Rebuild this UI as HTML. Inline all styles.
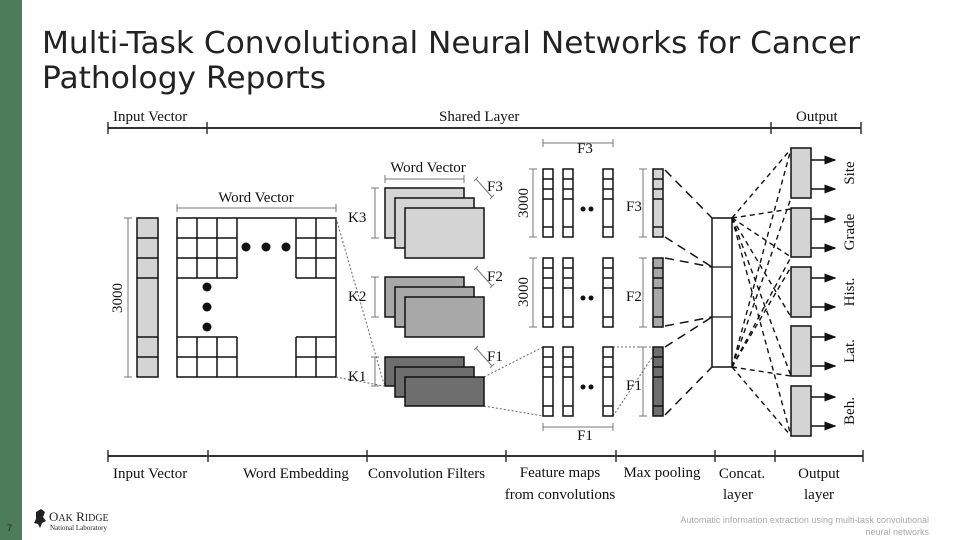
<!DOCTYPE html>
<html><head><meta charset="utf-8"><style>
html,body{margin:0;padding:0;background:#fff;}
svg{display:block;}
</style></head><body>
<svg width="960" height="540" viewBox="0 0 960 540" xmlns="http://www.w3.org/2000/svg">
<defs>
<marker id="ar" markerWidth="8" markerHeight="6" refX="7" refY="3" orient="auto"><path d="M0,0 L8,3 L0,6 z" fill="#111"/></marker>
</defs>
<rect x="0" y="0" width="22" height="540" fill="#4d7c5a"/>
<text x="7" y="531" font-family="Liberation Sans, sans-serif" font-size="9" fill="#222">7</text>
<g font-family="DejaVu Sans, Liberation Sans, sans-serif" font-size="30" fill="#222">
<text x="42" y="53" textLength="818" lengthAdjust="spacingAndGlyphs">Multi-Task Convolutional Neural Networks for Cancer</text>
<text x="42" y="88" textLength="284" lengthAdjust="spacingAndGlyphs">Pathology Reports</text>
</g>

<g font-family="Liberation Serif, serif" font-size="15" fill="#111">
<!-- top axis -->
<line x1="108" y1="128" x2="861" y2="128" stroke="#333" stroke-width="2"/>
<line x1="108" y1="122" x2="108" y2="134" stroke="#333" stroke-width="1.5"/>
<line x1="207" y1="122" x2="207" y2="134" stroke="#333" stroke-width="1.5"/>
<line x1="771" y1="122" x2="771" y2="134" stroke="#333" stroke-width="1.5"/>
<line x1="861" y1="122" x2="861" y2="134" stroke="#333" stroke-width="1.5"/>
<text x="113" y="121">Input  Vector</text>
<text x="439" y="121">Shared  Layer</text>
<text x="796" y="121">Output</text>

<!-- input vector -->
<line x1="128" y1="218" x2="128" y2="377" stroke="#777"/>
<line x1="124" y1="218" x2="132" y2="218" stroke="#777"/>
<line x1="124" y1="377" x2="132" y2="377" stroke="#777"/>
<text transform="translate(122,298) rotate(-90)" text-anchor="middle">3000</text>
<rect x="137" y="218" width="21" height="159" fill="#d4d4d4" stroke="#111" stroke-width="1.5"/>
<g stroke="#111" stroke-width="1.5">
<line x1="137" y1="238" x2="158" y2="238"/><line x1="137" y1="258" x2="158" y2="258"/><line x1="137" y1="278" x2="158" y2="278"/>
<line x1="137" y1="337" x2="158" y2="337"/><line x1="137" y1="357" x2="158" y2="357"/>
</g>

<!-- word matrix -->
<line x1="177" y1="208" x2="336" y2="208" stroke="#777"/>
<line x1="177" y1="204" x2="177" y2="212" stroke="#777"/><line x1="336" y1="204" x2="336" y2="212" stroke="#777"/>
<text x="256" y="202" text-anchor="middle">Word  Vector</text>
<rect x="177" y="218" width="159" height="159" fill="#fff" stroke="#111" stroke-width="1.5"/>
<g stroke="#111" stroke-width="1.5" fill="none">
<path d="M177 238H237M177 258H237M177 278H237M197 218V278M217 218V278M237 218V278"/>
<path d="M296 238H336M296 258H336M296 278H336M296 218V278M316 218V278"/>
<path d="M177 337H237M177 357H237M197 337V377M217 337V377M237 337V377"/>
<path d="M296 337H336M296 357H336M296 337V377M316 337V377"/>
</g>
<g fill="#111">
<circle cx="246" cy="247" r="4.5"/><circle cx="266" cy="247" r="4.5"/><circle cx="286" cy="247" r="4.5"/>
<circle cx="207" cy="287" r="4.5"/><circle cx="207" cy="307" r="4.5"/><circle cx="207" cy="327" r="4.5"/>
</g>
<g stroke="#666" stroke-dasharray="2,2" stroke-width="1">
<line x1="336" y1="218" x2="384" y2="384"/>
<line x1="336" y1="377" x2="384" y2="386"/>
<line x1="484" y1="377" x2="543" y2="347"/>
<line x1="484" y1="406" x2="543" y2="416"/>
<line x1="613" y1="347" x2="653" y2="347"/>
<line x1="613" y1="416" x2="653" y2="356"/>
</g>

<!-- filters -->
<line x1="385" y1="179" x2="464" y2="179" stroke="#777"/>
<line x1="385" y1="175" x2="385" y2="183" stroke="#777"/><line x1="464" y1="175" x2="464" y2="183" stroke="#777"/>
<text x="428" y="172" text-anchor="middle">Word  Vector</text>
<g stroke="#777">
<line x1="375" y1="188" x2="375" y2="238"/><line x1="371" y1="188" x2="379" y2="188"/><line x1="371" y1="238" x2="379" y2="238"/>
<line x1="375" y1="277" x2="375" y2="317"/><line x1="371" y1="277" x2="379" y2="277"/><line x1="371" y1="317" x2="379" y2="317"/>
<line x1="375" y1="357" x2="375" y2="386"/><line x1="371" y1="357" x2="379" y2="357"/><line x1="371" y1="386" x2="379" y2="386"/>
<line x1="476" y1="179" x2="492" y2="197"/><line x1="474" y1="181" x2="478" y2="177"/><line x1="490" y1="199" x2="494" y2="195"/>
<line x1="476" y1="268" x2="492" y2="286"/><line x1="474" y1="270" x2="478" y2="266"/><line x1="490" y1="288" x2="494" y2="284"/>
<line x1="476" y1="348" x2="492" y2="366"/><line x1="474" y1="350" x2="478" y2="346"/><line x1="490" y1="368" x2="494" y2="364"/>
</g>
<text x="348" y="222">K3</text><text x="348" y="301">K2</text><text x="348" y="381">K1</text>
<text x="487" y="191">F3</text><text x="487" y="281">F2</text><text x="487" y="361">F1</text>
<g stroke="#111" stroke-width="1.5">
<rect x="385" y="188" width="79" height="50" fill="#d4d4d4"/><rect x="395" y="198" width="79" height="50" fill="#d4d4d4"/><rect x="405" y="208" width="79" height="50" fill="#d4d4d4"/>
<rect x="385" y="277" width="79" height="40" fill="#a8a8a8"/><rect x="395" y="287" width="79" height="40" fill="#a8a8a8"/><rect x="405" y="297" width="79" height="40" fill="#a8a8a8"/>
<rect x="385" y="357" width="79" height="29" fill="#6e6e6e"/><rect x="395" y="367" width="79" height="30" fill="#6e6e6e"/><rect x="405" y="377" width="79" height="29" fill="#6e6e6e"/>
</g>

<!-- feature maps -->
<line x1="543" y1="143" x2="613" y2="143" stroke="#777"/>
<line x1="543" y1="139" x2="543" y2="147" stroke="#777"/><line x1="613" y1="139" x2="613" y2="147" stroke="#777"/>
<text x="585" y="153" text-anchor="middle">F3</text>
<line x1="543" y1="427" x2="613" y2="427" stroke="#777"/>
<line x1="543" y1="423" x2="543" y2="431" stroke="#777"/><line x1="613" y1="423" x2="613" y2="431" stroke="#777"/>
<text x="585" y="440" text-anchor="middle">F1</text>
<g stroke="#777">
<line x1="533" y1="169" x2="533" y2="237"/><line x1="529" y1="169" x2="537" y2="169"/><line x1="529" y1="237" x2="537" y2="237"/>
<line x1="533" y1="258" x2="533" y2="327"/><line x1="529" y1="258" x2="537" y2="258"/><line x1="529" y1="327" x2="537" y2="327"/>
<line x1="643" y1="169" x2="643" y2="237"/><line x1="639" y1="169" x2="647" y2="169"/><line x1="639" y1="237" x2="647" y2="237"/>
<line x1="643" y1="258" x2="643" y2="327"/><line x1="639" y1="258" x2="647" y2="258"/><line x1="639" y1="327" x2="647" y2="327"/>
<line x1="643" y1="347" x2="643" y2="416"/><line x1="639" y1="347" x2="647" y2="347"/><line x1="639" y1="416" x2="647" y2="416"/>
</g>
<text transform="translate(528,203) rotate(-90)" text-anchor="middle">3000</text>
<text transform="translate(528,292) rotate(-90)" text-anchor="middle">3000</text>
<text x="626" y="211">F3</text><text x="626" y="301">F2</text><text x="626" y="390">F1</text>
<g stroke="#111" stroke-width="1.5" fill="#fff">
<path d="M543 169h10v68h-10zM543 179h10M543 189h10M543 199h10M543 227h10"/>
<path d="M563 169h10v68h-10zM563 179h10M563 189h10M563 199h10M563 227h10"/>
<path d="M603 169h10v68h-10zM603 179h10M603 189h10M603 199h10M603 227h10"/>
<path d="M543 258h10v69h-10zM543 268h10M543 278h10M543 288h10M543 317h10"/>
<path d="M563 258h10v69h-10zM563 268h10M563 278h10M563 288h10M563 317h10"/>
<path d="M603 258h10v69h-10zM603 268h10M603 278h10M603 288h10M603 317h10"/>
<path d="M543 347h10v69h-10zM543 357h10M543 367h10M543 377h10M543 406h10"/>
<path d="M563 347h10v69h-10zM563 357h10M563 367h10M563 377h10M563 406h10"/>
<path d="M603 347h10v69h-10zM603 357h10M603 367h10M603 377h10M603 406h10"/>
</g>
<g stroke="#111" stroke-width="1.5">
<path fill="#d4d4d4" d="M653 169h10v68h-10zM653 179h10M653 189h10M653 199h10M653 227h10"/>
<path fill="#a8a8a8" d="M653 258h10v69h-10zM653 268h10M653 278h10M653 288h10M653 317h10"/>
<path fill="#6e6e6e" d="M653 347h10v69h-10zM653 357h10M653 367h10M653 377h10M653 406h10"/>
</g>
<g fill="#111">
<circle cx="583" cy="209" r="2.5"/><circle cx="591" cy="209" r="2.5"/>
<circle cx="583" cy="298" r="2.5"/><circle cx="591" cy="298" r="2.5"/>
<circle cx="583" cy="387" r="2.5"/><circle cx="591" cy="387" r="2.5"/>
</g>

<!-- pooling to concat -->
<g stroke="#111" stroke-width="1.5" stroke-dasharray="9,6">
<line x1="665" y1="170" x2="712" y2="218"/>
<line x1="665" y1="237" x2="712" y2="267"/>
<line x1="665" y1="258" x2="712" y2="267"/>
<line x1="665" y1="326" x2="712" y2="317"/>
<line x1="665" y1="347" x2="712" y2="317"/>
<line x1="665" y1="415" x2="712" y2="367"/>
</g>
<rect x="712" y="218" width="20" height="149" fill="#fff" stroke="#111" stroke-width="1.5"/>
<line x1="712" y1="267" x2="732" y2="267" stroke="#111" stroke-width="1.2"/>
<line x1="712" y1="317" x2="732" y2="317" stroke="#111" stroke-width="1.2"/>

<!-- concat to outputs -->
<g stroke="#111" stroke-width="1.4" stroke-dasharray="5,4">
<line x1="732" y1="218" x2="791" y2="149"/><line x1="732" y1="218" x2="791" y2="209"/><line x1="732" y1="218" x2="791" y2="257"/><line x1="732" y1="218" x2="791" y2="317"/><line x1="732" y1="218" x2="791" y2="376"/>
<line x1="732" y1="367" x2="791" y2="198"/><line x1="732" y1="367" x2="791" y2="257"/><line x1="732" y1="367" x2="791" y2="267"/><line x1="732" y1="367" x2="791" y2="376"/><line x1="732" y1="367" x2="791" y2="436"/>
<line x1="732" y1="218" x2="791" y2="436"/><line x1="732" y1="367" x2="791" y2="149"/>
</g>
<g stroke="#111" stroke-width="1.5" fill="#d4d4d4">
<rect x="791" y="148" width="20" height="50"/>
<rect x="791" y="208" width="20" height="49"/>
<rect x="791" y="267" width="20" height="50"/>
<rect x="791" y="326" width="20" height="50"/>
<rect x="791" y="386" width="20" height="50"/>
</g>
<g stroke="#111" stroke-width="1.5" marker-end="url(#ar)">
<line x1="811" y1="160" x2="835" y2="160"/><line x1="811" y1="189" x2="835" y2="189"/>
<line x1="811" y1="219" x2="835" y2="219"/><line x1="811" y1="248" x2="835" y2="248"/>
<line x1="811" y1="278" x2="835" y2="278"/><line x1="811" y1="307" x2="835" y2="307"/>
<line x1="811" y1="337" x2="835" y2="337"/><line x1="811" y1="366" x2="835" y2="366"/>
<line x1="811" y1="397" x2="835" y2="397"/><line x1="811" y1="426" x2="835" y2="426"/>
</g>
<text transform="translate(854,173) rotate(-90)" text-anchor="middle">Site</text>
<text transform="translate(854,232) rotate(-90)" text-anchor="middle">Grade</text>
<text transform="translate(854,292) rotate(-90)" text-anchor="middle">Hist.</text>
<text transform="translate(854,351) rotate(-90)" text-anchor="middle">Lat.</text>
<text transform="translate(854,411) rotate(-90)" text-anchor="middle">Beh.</text>

<!-- bottom axis -->
<line x1="108" y1="456" x2="863" y2="456" stroke="#333" stroke-width="2"/>
<g stroke="#333" stroke-width="1.5">
<line x1="108" y1="450" x2="108" y2="462"/><line x1="208" y1="450" x2="208" y2="462"/><line x1="367" y1="450" x2="367" y2="462"/>
<line x1="506" y1="450" x2="506" y2="462"/><line x1="616" y1="450" x2="616" y2="462"/><line x1="715" y1="450" x2="715" y2="462"/>
<line x1="775" y1="450" x2="775" y2="462"/><line x1="863" y1="450" x2="863" y2="462"/>
</g>
<text x="113" y="478">Input  Vector</text>
<text x="243" y="478">Word Embedding</text>
<text x="368" y="478">Convolution Filters</text>
<text x="560" y="477" text-anchor="middle">Feature maps</text>
<text x="560" y="499" text-anchor="middle">from convolutions</text>
<text x="662" y="477" text-anchor="middle">Max pooling</text>
<text x="742" y="478" text-anchor="middle">Concat.</text>
<text x="738" y="499" text-anchor="middle">layer</text>
<text x="819" y="478" text-anchor="middle">Output</text>
<text x="819" y="499" text-anchor="middle">layer</text>
</g>

<!-- logo -->
<g fill="#222">
<path d="M36 512 l5 -3 l4 3 l-2 5 l3 4 l-4 2 l-2 5 l-2 -4 l-4 -1 l2 -4 z"/>
<text x="49" y="521" font-family="Liberation Serif, serif" font-size="13">O<tspan font-size="10">AK</tspan> R<tspan font-size="10">IDGE</tspan></text>
<text x="50" y="530" font-family="Liberation Serif, serif" font-size="7">National Laboratory</text>
</g>
<g font-family="Liberation Sans, sans-serif" font-size="9" fill="#aaa" text-anchor="end">
<text x="929" y="523">Automatic information extraction using multi-task convolutional</text>
<text x="929" y="535">neural networks</text>
</g>
</svg>
</body></html>
